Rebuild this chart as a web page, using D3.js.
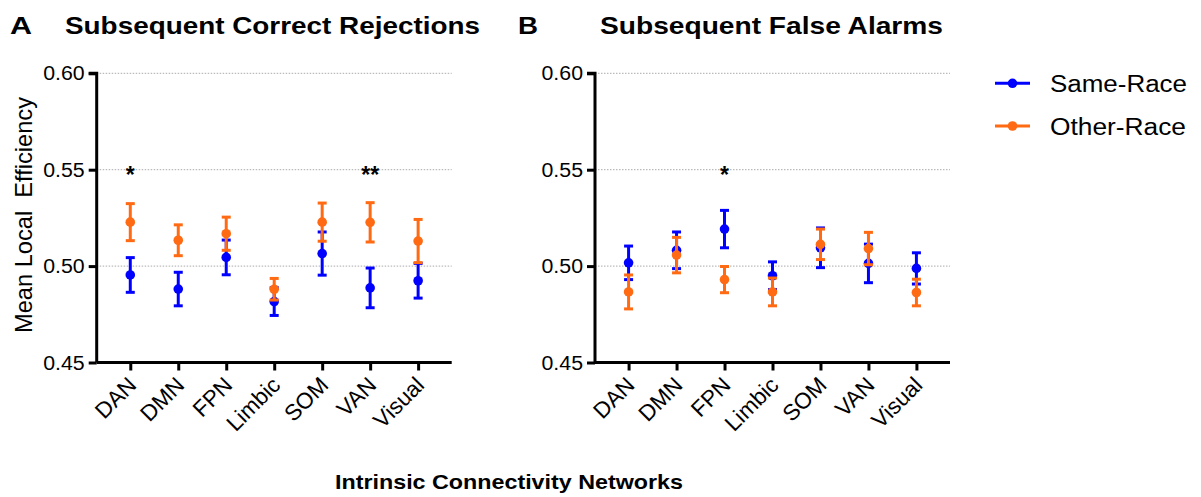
<!DOCTYPE html>
<html><head><meta charset="utf-8">
<script src="https://cdn.jsdelivr.net/npm/d3@7"></script>
<style>
body{margin:0;background:#fff;}
text{font-family:"Liberation Sans",Arial,sans-serif;}
</style></head><body>
<svg id="c" width="1201" height="497"></svg>
<script>
const categories = ["DAN","DMN","FPN","Limbic","SOM","VAN","Visual"];
const yTicks = [0.45,0.50,0.55,0.60];
const seriesNames = ["Same-Race","Other-Race"];
const colors = ["#0000ff","#ff6a13"];
// Panel A: Subsequent Correct Rejections
const crSame = [0.4954,0.4881,0.5045,0.4816,0.5065,0.4887,0.4924];
const crSameErr = [0.0090,0.0087,0.0090,0.0072,0.0112,0.0103,0.0090];
const crOther = [0.5228,0.5134,0.5168,0.4880,0.5228,0.5227,0.5130];
const crOtherErr = [0.0096,0.0080,0.0086,0.0056,0.0099,0.0102,0.0112];
const crStars = ["*","","","","","**",""];
// Panel B: Subsequent False Alarms
const faSame = [0.5017,0.5082,0.5192,0.4950,0.5095,0.5014,0.4988];
const faSameErr = [0.0087,0.0095,0.0097,0.0072,0.0103,0.0100,0.0081];
const faOther = [0.4866,0.5057,0.4930,0.4866,0.5113,0.5091,0.4863];
const faOtherErr = [0.0088,0.0092,0.0068,0.0072,0.0079,0.0084,0.0069];
const faStars = ["","","*","","","",""];

const svg = d3.select("#c");
const yTop = 73.3, yBot = 362.5;
const FF = '"Liberation Sans",Arial,sans-serif';

function panel(x0, x1, label, title, titleX, titleLen, letterX, letterLen, same, sameErr, other, otherErr, stars){
  const x = d3.scalePoint().domain(categories).range([x0, x1]).padding(0.7);
  const y = d3.scaleLinear().domain([0.45,0.60]).range([yBot, yTop]);
  const g = svg.append("g");
  // grid
  g.selectAll("line.grid").data(yTicks.filter(d=>d>0.45)).enter().append("line")
    .attr("x1", x0).attr("x2", x1).attr("y1", d=>y(d)).attr("y2", d=>y(d))
    .attr("stroke", "#aaa").attr("stroke-width", 1).attr("stroke-dasharray", "1.5,1.5");
  // y axis
  const ya = g.append("g").attr("transform", `translate(${x0},0)`)
    .call(d3.axisLeft(y).tickValues(yTicks).tickFormat(d3.format(".2f")).tickSize(8).tickPadding(4));
  ya.select(".domain").attr("stroke-width", 3).attr("d", `M-8,${yTop}H0V${yBot}`);
  ya.selectAll(".tick line").attr("stroke-width", 3);
  ya.selectAll(".tick text").attr("font-size", 20.5).attr("fill", "#000")
    .style("font-family", FF).attr("textLength", 41.5).attr("lengthAdjust", "spacingAndGlyphs");
  // x axis
  const xa = g.append("g").attr("transform", `translate(0,${yBot})`)
    .call(d3.axisBottom(x).tickSize(8).tickSizeOuter(0));
  xa.select(".domain").attr("stroke-width", 3).attr("d", `M${x0},0H${x1}`);
  xa.selectAll(".tick line").attr("stroke-width", 3);
  xa.selectAll(".tick text").attr("font-size", 22.5).attr("fill", "#000")
    .style("font-family", FF)
    .attr("text-anchor", "end").attr("dy", null).attr("y", null)
    .attr("transform", "translate(7,24) rotate(-45)");
  // series
  const sets = [[same, sameErr, colors[0]], [other, otherErr, colors[1]]];
  sets.forEach(([vals, errs, col]) => {
    const sg = g.append("g");
    const data = categories.map((c,i)=>({c, v: vals[i], e: errs[i]}));
    sg.selectAll("line.eb").data(data).enter().append("line")
      .attr("x1", d=>x(d.c)).attr("x2", d=>x(d.c))
      .attr("y1", d=>y(d.v - d.e)).attr("y2", d=>y(d.v + d.e))
      .attr("stroke", col).attr("stroke-width", 3);
    [-1, 1].forEach(s => {
      sg.selectAll(null).data(data).enter().append("line")
        .attr("x1", d=>x(d.c)-4.5).attr("x2", d=>x(d.c)+4.5)
        .attr("y1", d=>y(d.v + s*d.e)).attr("y2", d=>y(d.v + s*d.e))
        .attr("stroke", col).attr("stroke-width", 3);
    });
    sg.selectAll("circle").data(data).enter().append("circle")
      .attr("cx", d=>x(d.c)).attr("cy", d=>y(d.v)).attr("r", 4.8).attr("fill", col);
  });
  // stars
  g.selectAll("text.star").data(categories.map((c,i)=>({c, s: stars[i]})).filter(d=>d.s)).enter()
    .append("text").attr("x", d=>x(d.c)).attr("y", y(0.55)+13)
    .attr("text-anchor", "middle").attr("font-size", 23).attr("font-weight", "bold").text(d=>d.s);
  // titles
  svg.append("text").attr("x", letterX).attr("y", 33.5).attr("font-size", 24).attr("font-weight", "bold")
    .attr("textLength", letterLen).attr("lengthAdjust", "spacingAndGlyphs").text(label);
  svg.append("text").attr("x", titleX).attr("y", 33.5).attr("font-size", 24).attr("font-weight", "bold")
    .attr("textLength", titleLen).attr("lengthAdjust", "spacingAndGlyphs").text(title);
}

panel(96.7, 451.7, "A", "Subsequent Correct Rejections", 65, 415, 10, 22, crSame, crSameErr, crOther, crOtherErr, crStars);
panel(595, 950, "B", "Subsequent False Alarms", 600, 343, 518, 20, faSame, faSameErr, faOther, faOtherErr, faStars);

// y label
svg.append("text").attr("transform", "translate(31.5,215) rotate(-90)")
  .attr("text-anchor", "middle").attr("font-size", 24.5)
  .attr("xml:space","preserve").attr("textLength", 236).attr("lengthAdjust", "spacingAndGlyphs")
  .text("Mean Local  Efficiency");
// x title
svg.append("text").attr("x", 335).attr("y", 489)
  .attr("font-size", 20.5).attr("font-weight", "bold")
  .attr("textLength", 348).attr("lengthAdjust", "spacingAndGlyphs")
  .text("Intrinsic Connectivity Networks");

// legend
const legendLens = [137, 136];
const lg = svg.append("g");
seriesNames.forEach((n,i) => {
  const yy = 83.3 + i*42.7;
  lg.append("line").attr("x1", 995).attr("x2", 1030).attr("y1", yy).attr("y2", yy)
    .attr("stroke", colors[i]).attr("stroke-width", 3);
  lg.append("circle").attr("cx", 1012.5).attr("cy", yy).attr("r", 4.8).attr("fill", colors[i]);
  lg.append("text").attr("x", 1050).attr("y", yy + 8.5).attr("font-size", 23.5)
    .attr("textLength", legendLens[i]).attr("lengthAdjust", "spacingAndGlyphs").text(n);
});
</script>
</body></html>
